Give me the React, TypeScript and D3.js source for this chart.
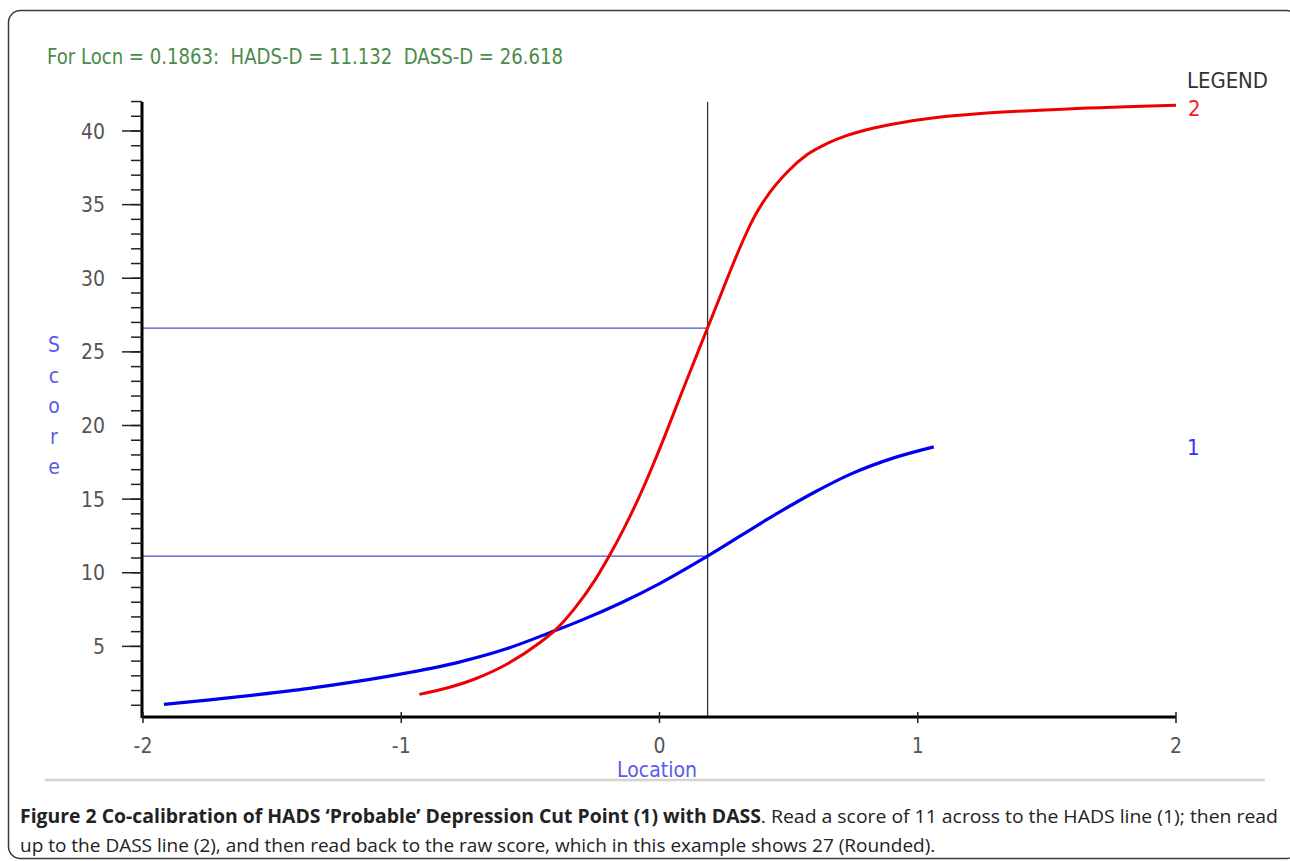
import * as d3 from "d3";

// DASS-D (2) curve: [location, score]
const dassPoints: [number, number][] = [
  [-0.93, 1.74], [-0.85, 2.05], [-0.72, 2.75], [-0.59, 3.8], [-0.46, 5.3],
  [-0.41, 6.0], [-0.33, 7.55], [-0.25, 9.5], [-0.196, 11.1], [-0.138, 13.0],
  [-0.08, 15.1], [-0.028, 17.2], [0.023, 19.4], [0.081, 22.0], [0.133, 24.3],
  [0.186, 26.62], [0.24, 29.0], [0.281, 30.8], [0.327, 32.7], [0.359, 33.9],
  [0.41, 35.4], [0.494, 37.2], [0.572, 38.4], [0.643, 39.1], [0.727, 39.7],
  [0.83, 40.2], [0.946, 40.6], [1.088, 40.95], [1.255, 41.2], [1.579, 41.5],
  [2.0, 41.75],
];

// HADS-D (1) curve
const hadsPoints: [number, number][] = [
  [-1.919, 1.06], [-1.751, 1.35], [-1.558, 1.72], [-1.364, 2.13], [-1.171, 2.62],
  [-0.977, 3.2], [-0.783, 3.9], [-0.59, 4.85], [-0.422, 5.95], [-0.306, 6.75],
  [-0.15, 7.95], [0.004, 9.3], [0.186, 11.13], [0.443, 13.9], [0.598, 15.45],
  [0.74, 16.7], [0.907, 17.8], [1.062, 18.55],
];

const locn = 0.1863;
const hadsAtLocn = 11.132;
const dassAtLocn = 26.618;

const xTicks = [-2, -1, 0, 1, 2];
const yMajorTicks = [5, 10, 15, 20, 25, 30, 35, 40];
const yMinorTicks = d3.range(1, 43);
const yLabelLetters = ["S", "c", "o", "r", "e"];

const chartFont = "'DejaVu Sans Condensed', 'Liberation Sans Narrow', 'Open Sans', sans-serif";
const captionFont = "'Open Sans', sans-serif";

export default function App() {
  const W = 1290;
  const H = 861;

  const x = d3.scaleLinear().domain([-2, 2]).range([143, 1176]);
  const y = d3.scaleLinear().domain([0, 40]).range([720, 131]);

  const line = d3
    .line<[number, number]>()
    .x((d) => x(d[0]))
    .y((d) => y(d[1]))
    .curve(d3.curveMonotoneX);

  const axisY = 717;
  const axisX = 142;

  return (
    <div style={{ position: "absolute", left: 0, top: 0 }}>
      <svg width={W} height={H} style={{ display: "block", background: "#fff" }}>
        {/* outer frame */}
        <rect x={8.5} y={10.5} width={1290} height={848} rx={12} fill="none" stroke="#3a3a3a" strokeWidth={1.5} />

        {/* header */}
        <text
          x={47}
          y={64}
          fill="#4b8b4b"
          fontFamily={chartFont}
          fontSize={22}
          textLength={516}
          lengthAdjust="spacingAndGlyphs"
          style={{ whiteSpace: "pre" }}
        >
          {"For Locn = 0.1863:  HADS-D = 11.132  DASS-D = 26.618"}
        </text>

        {/* crosshair lines */}
        <line x1={axisX} x2={x(locn)} y1={y(dassAtLocn)} y2={y(dassAtLocn)} stroke="#4a4ae0" strokeWidth={1.2} />
        <line x1={axisX} x2={x(locn)} y1={y(hadsAtLocn)} y2={y(hadsAtLocn)} stroke="#4a4ae0" strokeWidth={1.2} />
        <line x1={x(locn)} x2={x(locn)} y1={102} y2={axisY} stroke="#333" strokeWidth={1.3} />

        {/* curves */}
        <path d={line(hadsPoints) ?? ""} fill="none" stroke="#0000ee" strokeWidth={3.2} />
        <path d={line(dassPoints) ?? ""} fill="none" stroke="#ee0000" strokeWidth={3} />

        {/* y axis */}
        <line x1={axisX} x2={axisX} y1={102} y2={axisY + 1} stroke="#000" strokeWidth={3} />
        {yMinorTicks.map((t) => (
          <line key={"m" + t} x1={131} x2={axisX} y1={y(t)} y2={y(t)} stroke="#222" strokeWidth={1.5} />
        ))}
        {yMajorTicks.map((t) => (
          <g key={"M" + t}>
            <line x1={122} x2={axisX} y1={y(t)} y2={y(t)} stroke="#222" strokeWidth={1.5} />
            <text x={105} y={y(t)} dy="0.36em" textAnchor="end" fill="#555" fontFamily={chartFont} fontSize={21}>
              {t}
            </text>
          </g>
        ))}

        {/* x axis */}
        <line x1={axisX} x2={x(2)} y1={axisY} y2={axisY} stroke="#000" strokeWidth={3} />
        {xTicks.map((t) => (
          <g key={"x" + t}>
            <line x1={x(t)} x2={x(t)} y1={712} y2={723} stroke="#222" strokeWidth={1.5} />
            <text x={x(t)} y={753} textAnchor="middle" fill="#555" fontFamily={chartFont} fontSize={21}>
              {t}
            </text>
          </g>
        ))}

        {/* axis titles */}
        <text x={657} y={777} textAnchor="middle" fill="#5a5aee" fontFamily={chartFont} fontSize={21}>
          Location
        </text>
        {yLabelLetters.map((c, i) => (
          <text key={"s" + i} x={54} y={352 + i * 30.5} textAnchor="middle" fill="#5a5aee" fontFamily={chartFont} fontSize={21}>
            {c}
          </text>
        ))}

        {/* legend */}
        <text x={1187} y={88} fill="#333" fontFamily={chartFont} fontSize={22} textLength={81} lengthAdjust="spacingAndGlyphs">
          LEGEND
        </text>
        <text x={1188} y={116} fill="#ee2222" fontFamily={chartFont} fontSize={22}>
          2
        </text>
        <text x={1187} y={455} fill="#3333ee" fontFamily={chartFont} fontSize={22}>
          1
        </text>

        {/* separator */}
        <line x1={45} x2={1265} y1={780} y2={780} stroke="#d4d4cc" strokeWidth={2.5} />

        {/* caption */}
        <text x={20} y={823} fill="#222" fontFamily={captionFont} fontSize={19} textLength={1258} lengthAdjust="spacingAndGlyphs">
          <tspan fontWeight="bold">Figure 2 Co-calibration of HADS ‘Probable’ Depression Cut Point (1) with DASS</tspan>
          <tspan>. Read a score of 11 across to the HADS line (1); then read</tspan>
        </text>
        <text x={20} y={852} fill="#222" fontFamily={captionFont} fontSize={19}>
          up to the DASS line (2), and then read back to the raw score, which in this example shows 27 (Rounded).
        </text>
      </svg>
    </div>
  );
}
